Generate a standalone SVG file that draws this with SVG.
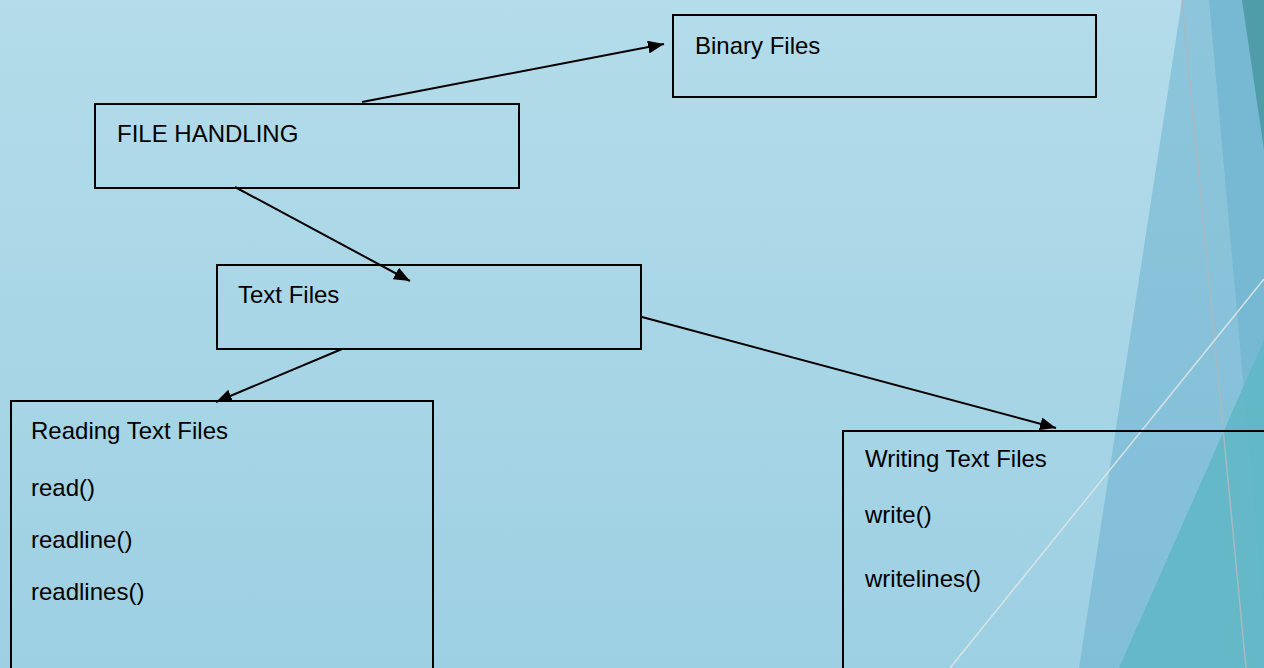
<svg xmlns="http://www.w3.org/2000/svg" width="1264" height="668" viewBox="0 0 1264 668">
  <defs>
    <linearGradient id="bg" x1="0" y1="0" x2="0" y2="1">
      <stop offset="0" stop-color="#b4dcea"/>
      <stop offset="1" stop-color="#9dd0e3"/>
    </linearGradient>
    <linearGradient id="mid" x1="0" y1="0" x2="0" y2="1">
      <stop offset="0" stop-color="#8dc6dc"/>
      <stop offset="1" stop-color="#81bed8"/>
    </linearGradient>
    <marker id="arrow" viewBox="0 0 16 13" refX="16" refY="6.5" markerWidth="16" markerHeight="13" markerUnits="userSpaceOnUse" orient="auto">
      <path d="M0,0 L16,6.5 L0,13 z" fill="#000"/>
    </marker>
    <style>
      .box { fill: none; stroke: #000; stroke-width: 2; }
      .lbl { font-family: "Liberation Sans", Arial, sans-serif; font-size: 24px; fill: #000; }
      .conn { stroke: #000; stroke-width: 2; fill: none; marker-end: url(#arrow); }
    </style>
  </defs>

  <rect x="0" y="0" width="1264" height="668" fill="url(#bg)"/>

  <g id="decor">
    <polygon points="1182,0 1264,0 1264,668 1079,668" fill="url(#mid)"/>
    <polygon points="1209,0 1264,0 1264,614" fill="#77b9d3"/>
    <polygon points="1242,0 1264,0 1264,150" fill="#4f9da9"/>
    <polygon points="1264,340 1264,668 1119,668" fill="#62b7c6" fill-opacity="0.95"/>
    <line x1="1182" y1="0" x2="1246" y2="668" stroke="#a9b9c1" stroke-width="1.5"/>
    <line x1="1264" y1="279" x2="950" y2="668" stroke="#dde5e6" stroke-width="1.5" stroke-opacity="0.9"/>
  </g>

  <g id="binary-files">
    <rect class="box" x="673" y="15" width="423" height="82"/>
    <text class="lbl" x="695" y="54">Binary Files</text>
  </g>

  <g id="file-handling">
    <rect class="box" x="95" y="104" width="424" height="84"/>
    <text class="lbl" x="117" y="142">FILE HANDLING</text>
  </g>

  <g id="text-files">
    <rect class="box" x="217" y="265" width="424" height="84"/>
    <text class="lbl" x="238" y="303">Text Files</text>
  </g>

  <g id="reading-text-files">
    <rect class="box" x="11" y="401" width="422" height="280"/>
    <text class="lbl" x="31" y="439">Reading Text Files</text>
    <text class="lbl" x="31" y="496">read()</text>
    <text class="lbl" x="31" y="548">readline()</text>
    <text class="lbl" x="31" y="600">readlines()</text>
  </g>

  <g id="writing-text-files">
    <rect class="box" x="843" y="431" width="440" height="250"/>
    <text class="lbl" x="865" y="467">Writing Text Files</text>
    <text class="lbl" x="865" y="523">write()</text>
    <text class="lbl" x="865" y="587">writelines()</text>
  </g>

  <g id="connectors">
    <line class="conn" x1="362" y1="102" x2="664" y2="44"/>
    <line class="conn" x1="235" y1="187" x2="410" y2="281"/>
    <line class="conn" x1="342" y1="349" x2="216" y2="402"/>
    <line class="conn" x1="642" y1="317" x2="1056" y2="428"/>
  </g>
</svg>
